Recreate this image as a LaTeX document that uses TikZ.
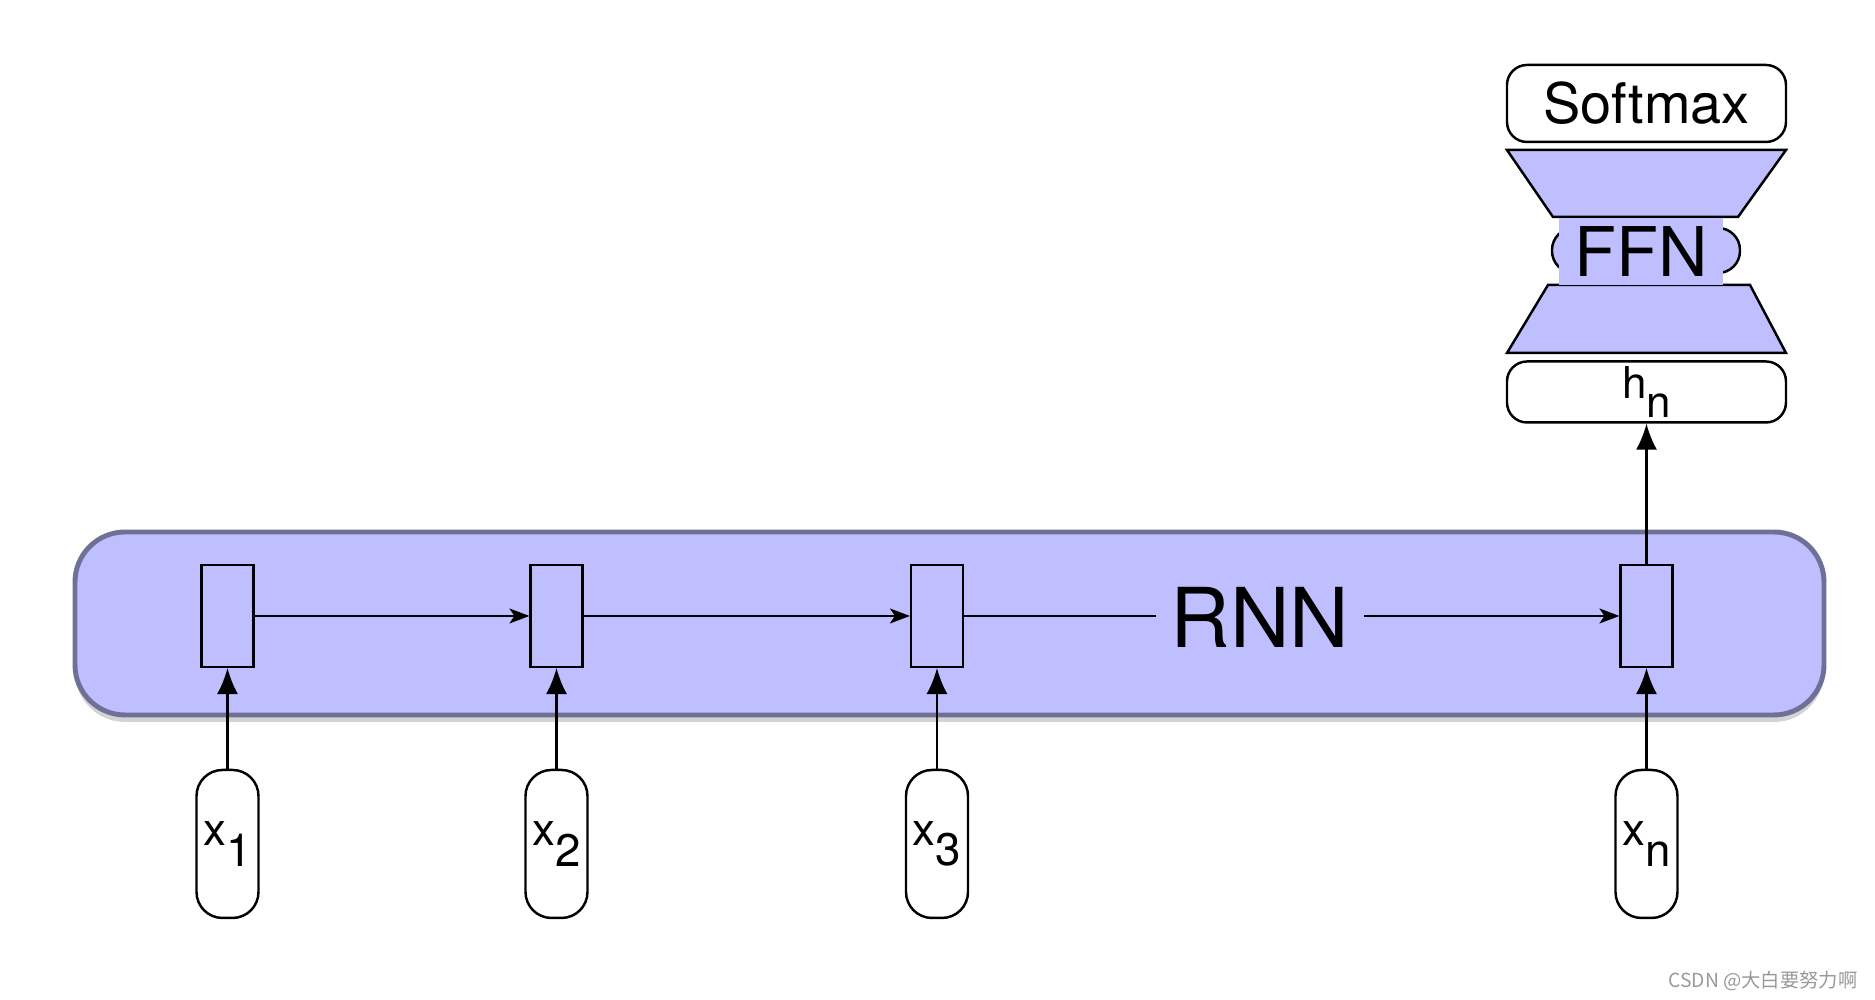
\documentclass[tikz,border=0pt]{standalone}
\usepackage{fontspec}
\setmainfont{TeX Gyre Heros}
\newfontfamily\cjkfont{Noto Sans CJK SC}
\usepackage{tikz}
\usetikzlibrary{shapes,arrows.meta}
\usetikzlibrary{positioning,shadows}
\definecolor{rnnblue}{RGB}{191,191,255}
\definecolor{rnnedge}{RGB}{110,112,150}
\newcommand{\lowsub}[2]{#1\raisebox{-0.45em}{#2}}
\tikzstyle{cell} = [rectangle, draw, fill=rnnblue, line width=0.6pt,
    minimum width=0.52cm, minimum height=1.02cm, inner sep=0pt]
\tikzstyle{token} = [rectangle, draw, rounded corners=0.26cm, line width=0.7pt,
    minimum width=0.62cm, minimum height=1.48cm, inner sep=0pt,
    font=\fontsize{13}{15}\selectfont]
\tikzstyle{bar} = [rectangle, draw, rounded corners=0.2cm, line width=0.7pt,
    minimum width=2.79cm, inner sep=0pt]
\tikzstyle{layer} = [draw, fill=rnnblue, line width=0.7pt]
\tikzstyle{feed} = [-{Stealth[length=0.2cm,width=0.15cm,inset=0.05cm]}, line width=0.5pt]
\tikzstyle{lift} = [-{Latex[length=0.26cm,width=0.21cm]}, line width=0.6pt]

\begin{document}
\begin{tikzpicture}
  \useasboundingbox (0,0) rectangle (18.75,10);
  % Place nodes
  \node [rectangle, draw=rnnedge, line width=1.4pt, fill=rnnblue, rounded corners=0.5cm,
    minimum width=17.49cm, minimum height=1.83cm,
    drop shadow={shadow xshift=0pt, shadow yshift=-0.07cm, opacity=0.35}] (rnnbox) at (9.495,3.765) {};
  \node [cell] (cell1) at (2.275,3.84) {};
  \node [cell] (cell2) at (5.565,3.84) {};
  \node [cell] (cell3) at (9.37,3.84) {};
  \node [cell] (celln) at (16.465,3.84) {};
  \node [inner sep=4pt, font=\fontsize{23.5}{26}\selectfont] (rnn) at (12.6,3.83) {RNN};
  \node [token, below of=cell1, node distance=2.28cm] (in1) {\lowsub{x}{1}};
  \node [token, below of=cell2, node distance=2.28cm] (in2) {\lowsub{x}{2}};
  \node [token, below of=cell3, node distance=2.28cm] (in3) {\lowsub{x}{3}};
  \node [token, below of=celln, node distance=2.28cm] (inn) {\lowsub{x}{n}};
  \node [bar, minimum height=0.61cm, above of=celln, node distance=2.24cm,
    font=\fontsize{12.5}{14}\selectfont] (hn) {\lowsub{h}{n}};
  % FFN layers
  \draw [layer] (15.07,8.50) -- (17.86,8.50) -- (17.38,7.83) -- (15.53,7.83) -- cycle;
  \draw [layer] (15.48,7.15) -- (17.50,7.15) -- (17.86,6.47) -- (15.07,6.47) -- cycle;
  \node [draw, fill=rnnblue, rounded corners=0.22cm, line width=0.7pt,
    minimum width=1.88cm, minimum height=0.45cm] (ffnring) at (16.46,7.495) {};
  \node [fill=rnnblue, inner sep=0pt, minimum width=1.64cm, minimum height=0.67cm,
    font=\fontsize{19.5}{22}\selectfont] (ffn) at (16.41,7.485) {FFN};
  \node [bar, minimum height=0.77cm, font=\fontsize{15.9}{18}\selectfont] (softmax) at (16.465,8.965) {Softmax};
  \node [text=black!40, font=\cjkfont\fontsize{5.5}{6}\selectfont] (mark) at (17.63,0.19) {CSDN @大白要努力啊};
  % Draw edges
  \draw [feed] (cell1) -- (cell2);
  \draw [feed] (cell2) -- (cell3);
  \draw [line width=0.5pt] (cell3.east) -- (cell3.east -| rnn.west);
  \draw [feed] (rnn.east |- celln.west) -- (celln.west);
  \foreach \i in {1,2,3,n}
    \draw [lift] (in\i.north) -- (cell\i.south);
  \draw [lift] (celln.north) -- (hn.south);
\end{tikzpicture}
\end{document}
